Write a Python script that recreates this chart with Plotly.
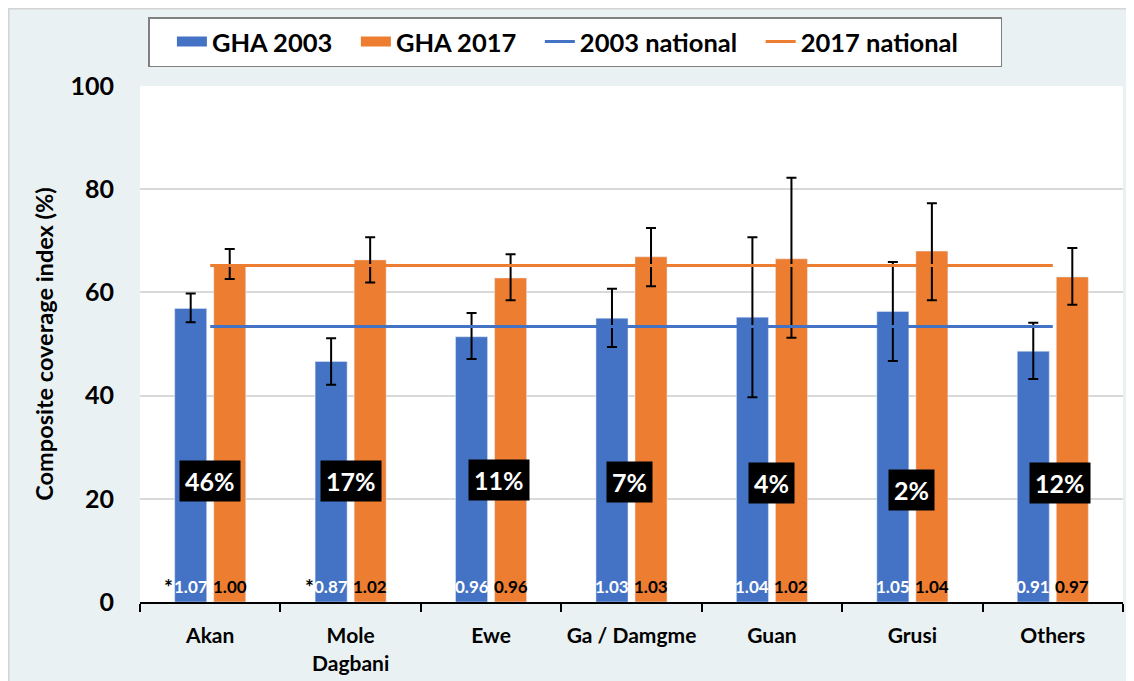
import plotly.graph_objects as go

# ---------------- data ----------------
categories = ["Akan", "Mole<br>Dagbani", "Ewe", "Ga / Damgme", "Guan", "Grusi", "Others"]

cci_2003 = [56.9, 46.6, 51.4, 55.0, 55.2, 56.3, 48.6]
cci_2003_low = [54.2, 42.1, 47.1, 49.4, 39.7, 46.7, 43.2]
cci_2003_high = [59.8, 51.1, 56.0, 60.7, 70.7, 65.9, 54.1]

cci_2017 = [65.4, 66.3, 62.8, 66.9, 66.5, 68.0, 63.0]
cci_2017_low = [62.6, 61.9, 58.5, 61.2, 51.2, 58.5, 57.6]
cci_2017_high = [68.4, 70.7, 67.4, 72.5, 82.2, 77.3, 68.6]

national_2003 = 53.4
national_2017 = 65.2

population_share = [46, 17, 11, 7, 4, 2, 12]
ratio_2003 = [1.07, 0.87, 0.96, 1.03, 1.04, 1.05, 0.91]
ratio_2017 = [1.00, 1.02, 0.96, 1.03, 1.02, 1.04, 0.97]
ratio_2003_significant = [True, True, False, False, False, False, False]

series_names = ["GHA 2003", "GHA 2017", "2003 national", "2017 national"]

# ---------------- style ----------------
BLUE = "#4472C4"
ORANGE = "#ED7D31"
BG = "#E9F1F3"
FONT = "Lato"
NB = "\u00a0"
legend_pad = [3, 3, 3, 6]   # trailing spacing for legend entries

def lname(i):
    return series_names[i] + NB * legend_pad[i]

fig = go.Figure()

fig.add_trace(go.Bar(
    name=series_names[0], x=categories, y=cci_2003, marker_color=BLUE, showlegend=False,
    error_y=dict(type="data", symmetric=False,
                 array=[h - v for h, v in zip(cci_2003_high, cci_2003)],
                 arrayminus=[v - l for v, l in zip(cci_2003, cci_2003_low)],
                 color="black", thickness=2, width=5),
))
fig.add_trace(go.Bar(
    name=series_names[1], x=categories, y=cci_2017, marker_color=ORANGE, showlegend=False,
    error_y=dict(type="data", symmetric=False,
                 array=[h - v for h, v in zip(cci_2017_high, cci_2017)],
                 arrayminus=[v - l for v, l in zip(cci_2017, cci_2017_low)],
                 color="black", thickness=2, width=5),
))
fig.add_trace(go.Scatter(
    name=lname(2), x=categories, y=[national_2003] * len(categories),
    mode="lines", line=dict(color=BLUE, width=3), legendrank=3,
))
fig.add_trace(go.Scatter(
    name=lname(3), x=categories, y=[national_2017] * len(categories),
    mode="lines", line=dict(color=ORANGE, width=3), legendrank=4,
))
# legend swatches for the bar series (wide rectangles as in the original)
fig.add_trace(go.Scatter(
    name=lname(0), x=[None], y=[None], mode="lines",
    line=dict(color=BLUE, width=16), legendrank=1, hoverinfo="skip",
))
fig.add_trace(go.Scatter(
    name=lname(1), x=[None], y=[None], mode="lines",
    line=dict(color=ORANGE, width=16), legendrank=2, hoverinfo="skip",
))

annotations = []
share_y = [23.4, 23.4, 23.6, 23.2, 23.0, 21.8, 23.0]
share_xshift = [0, 0, 8, -2, 0, -1, 7]
for cat, s, yy, xs in zip(categories, population_share, share_y, share_xshift):
    annotations.append(dict(
        x=cat, y=yy, text=f"{s}%", showarrow=False, xshift=xs,
        font=dict(family=FONT, size=25, color="white", weight="bold"),
        bgcolor="black", borderpad=5,
    ))

for cat, r3, r7, sig in zip(categories, ratio_2003, ratio_2017, ratio_2003_significant):
    annotations.append(dict(
        x=cat, y=3.1, text=f"{r3:.2f}", showarrow=False, xshift=-19.5,
        font=dict(family=FONT, size=17, color="white", weight="bold"),
    ))
    annotations.append(dict(
        x=cat, y=3.1, text=f"{r7:.2f}", showarrow=False, xshift=19.5,
        font=dict(family=FONT, size=17, color="black", weight="bold"),
    ))
    if sig:
        annotations.append(dict(
            x=cat, y=3.1, text="*", showarrow=False, xshift=-35, xanchor="right",
            font=dict(family=FONT, size=21, color="black", weight="bold"),
        ))

# page has an 8px body margin; screen px -> figure px
OFF = 8
L, T, R, B = 140 - OFF, 86 - OFF, 1123 - OFF, 602 - OFF
W, H = 1134 - OFF, 681 - OFF
PW, PH = float(R - L), float(B - T)

def px_x(p):  # screen px -> paper x
    return (p - OFF - L) / PW

def px_y(p):  # screen px -> paper y
    return (B - (p - OFF)) / PH

shapes = [
    dict(type="rect", xref="paper", yref="paper",
         x0=px_x(OFF + 0.75), x1=px_x(1180), y0=px_y(720), y1=px_y(OFF + 0.75),
         line=dict(color="#D4D4D4", width=1.5), fillcolor="rgba(0,0,0,0)", layer="above"),
]

fig.update_layout(
    width=W, height=H,
    margin=dict(l=L, r=W - R, t=T, b=H - B, autoexpand=False),
    paper_bgcolor=BG, plot_bgcolor="white",
    barmode="group", bargap=0.444, bargroupgap=0.18,
    font=dict(family=FONT, color="black"),
    showlegend=True,
    legend=dict(
        orientation="h", x=px_x(148), y=px_y(17), xanchor="left", yanchor="top",
        bgcolor="white", bordercolor="#808080", borderwidth=1.5,
        font=dict(family=FONT, size=25.5, color="black", weight="bold"),
        traceorder="normal", itemwidth=30,
        title=dict(text=NB * 2, side="left", font=dict(family=FONT, size=25.5)),
    ),
    annotations=annotations,
    shapes=shapes,
)

fig.update_xaxes(
    showline=True, linecolor="black", linewidth=2,
    ticks="outside", tickson="boundaries", ticklen=8, tickwidth=2, tickcolor="black",
    tickfont=dict(family=FONT, size=21, color="black", weight="bold"),
    showgrid=False, ticklabelstandoff=14,
)
fig.update_yaxes(
    range=[0, 100], dtick=20, tick0=0,
    showgrid=True, gridcolor="#D9D9D9", gridwidth=1.5,
    zeroline=False, showline=False, ticks="",
    tickfont=dict(family=FONT, size=25, color="black", weight="bold"),
    ticklabelstandoff=25,
    title=dict(text="Composite coverage index (%)",
               font=dict(family=FONT, size=23.5, color="black", weight="bold"),
               standoff=10),
)

fig.write_html("out.html")
